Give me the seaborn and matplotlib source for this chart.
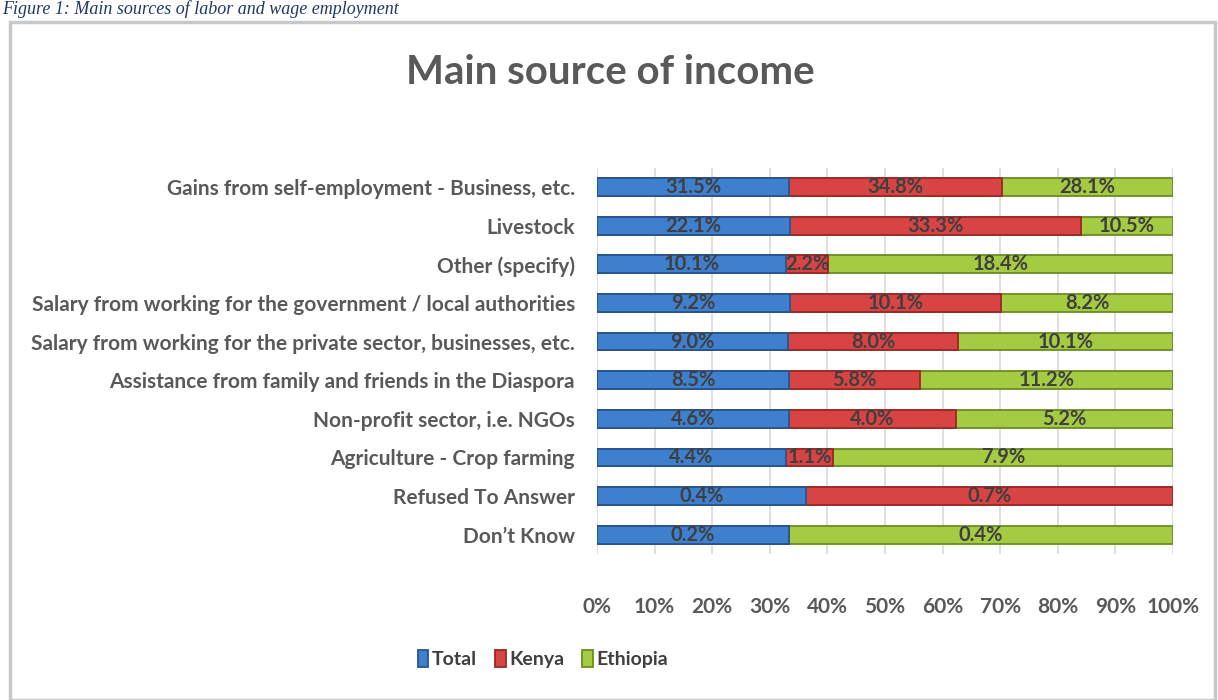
import numpy as np
import pandas as pd
import matplotlib
matplotlib.use("Agg")
import matplotlib.pyplot as plt
from matplotlib.patches import Rectangle
import seaborn as sns

categories = [
    "Gains from self-employment - Business, etc.",
    "Livestock",
    "Other (specify)",
    "Salary from working for the government / local authorities",
    "Salary from working for the private sector, businesses, etc.",
    "Assistance from family and friends in the Diaspora",
    "Non-profit sector, i.e. NGOs",
    "Agriculture - Crop farming",
    "Refused To Answer",
    "Don\u2019t Know",
]
total = [31.5, 22.1, 10.1, 9.2, 9.0, 8.5, 4.6, 4.4, 0.4, 0.2]
kenya = [34.8, 33.3, 2.2, 10.1, 8.0, 5.8, 4.0, 1.1, 0.7, 0.0]
ethiopia = [28.1, 10.5, 18.4, 8.2, 10.1, 11.2, 5.2, 7.9, 0.0, 0.4]
series_names = ["Total", "Kenya", "Ethiopia"]
x_ticks = [0, 10, 20, 30, 40, 50, 60, 70, 80, 90, 100]

colors = {"Total": "#3F80CE", "Kenya": "#D84444", "Ethiopia": "#A4CB42"}
edges = {"Total": "#24558F", "Kenya": "#9A2826", "Ethiopia": "#6A8C24"}
text_grey = "#595959"
label_grey = "#3F3F3F"

sns.set_theme(style="white")
plt.rcParams["font.family"] = ["Lato", "DejaVu Sans"]

# Share of each row, stacked to 100%
vals = np.array([total, kenya, ethiopia], dtype=float)
shares = vals / vals.sum(axis=0) * 100
cum = np.cumsum(shares, axis=0)

df = pd.DataFrame({"category": categories})
for i, name in enumerate(series_names):
    df[name + "_end"] = cum[i]

fig = plt.figure(figsize=(12.18, 7.0), dpi=100)
fig.patch.set_facecolor("white")

# Frame around the chart and the caption above it
fig.patches.append(Rectangle((10 / 1218, 0), 1205 / 1218, 1 - 22 / 700,
                             transform=fig.transFigure, fill=False,
                             edgecolor="#C8C8C8", linewidth=2.5))
fig.text(2 / 1218, 1.0, "Figure 1: Main sources of labor and wage employment",
         fontsize=13, fontstyle="italic", color="#1F3864",
         family=["Liberation Serif", "DejaVu Serif"], ha="left", va="top")

ax = fig.add_axes([597 / 1218, 1 - 554 / 700, 576 / 1218, (554 - 167.7) / 700])

# Draw from the longest cumulative segment down so each series sits on the next
for i in reversed(range(len(series_names))):
    name = series_names[i]
    sns.barplot(data=df, y="category", x=name + "_end", order=categories,
                color=colors[name], saturation=1, orient="h", width=0.46,
                edgecolor=edges[name], linewidth=1.3, ax=ax, zorder=3,
                label=name)

# Value labels centred in each segment
for i, name in enumerate(series_names):
    starts = cum[i] - shares[i]
    for j, cat in enumerate(categories):
        if vals[i, j] <= 0:
            continue
        ax.text(starts[j] + shares[i, j] / 2, j, f"{vals[i, j]:.1f}%",
                ha="center", va="center", fontsize=14.5, fontweight="bold",
                color=label_grey, zorder=5)

ax.set_xlim(0, 100)
ax.set_xticks(x_ticks)
ax.set_xticklabels([f"{t}%" for t in x_ticks])
ax.set_xlabel("")
ax.set_ylabel("")
ax.grid(axis="x", color="#D9D9D9", linewidth=1.2, zorder=0)
ax.grid(axis="y", visible=False)
for s in ax.spines.values():
    s.set_visible(False)
ax.tick_params(axis="x", length=0, pad=31, labelsize=15, labelcolor=text_grey)
ax.tick_params(axis="y", length=0, pad=16, labelsize=15, labelcolor=text_grey)
for lbl in ax.get_xticklabels() + ax.get_yticklabels():
    lbl.set_fontweight("bold")

fig.text(610 / 1218, 1 - 73 / 700, "Main source of income", ha="center",
         va="center", fontsize=29, fontweight="bold", color=text_grey)

handles, labels = ax.get_legend_handles_labels()
order = [labels.index(n) for n in series_names]
leg = fig.legend([handles[k] for k in order], [labels[k] for k in order],
                 loc="center", bbox_to_anchor=(543 / 1218, 1 - 659 / 700),
                 ncol=3, frameon=False, handlelength=0.55, handleheight=1.0,
                 handletextpad=0.2, columnspacing=0.9,
                 prop={"size": 14, "weight": "bold"})
for t in leg.get_texts():
    t.set_color(label_grey)
if ax.get_legend() is not None:
    ax.get_legend().remove()

fig.savefig("out.png", dpi=100, facecolor="white")
